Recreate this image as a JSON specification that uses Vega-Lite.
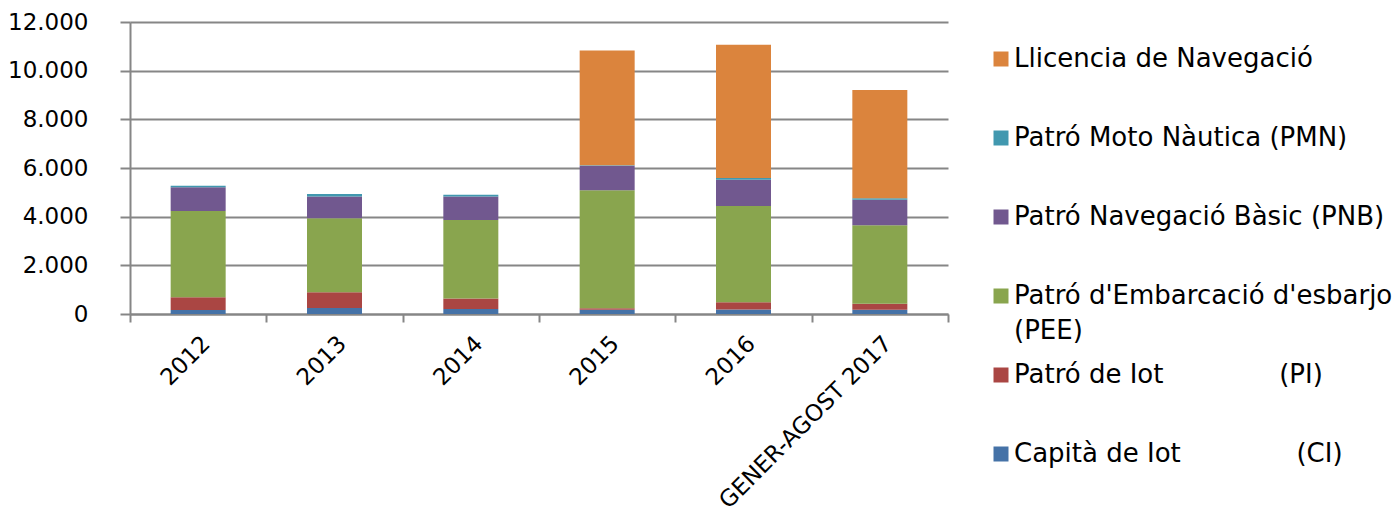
{
  "$schema": "https://vega.github.io/schema/vega-lite/v6.json",
  "width": 818,
  "height": 292,
  "autosize": {"type": "none"},
  "padding": {"left": 130, "top": 22, "right": 451, "bottom": 209},
  "background": "white",
  "config": {
    "view": {"stroke": null},
    "font": "DejaVu Sans",
    "style": {"guide-label": {"lineHeight": 35}}
  },
  "data": {
    "values": [
      {"periode": "2012", "tipus": "Capità de Iot (CI)", "valor": 165, "ordre": 1},
      {"periode": "2012", "tipus": "Patró de Iot (PI)", "valor": 520, "ordre": 2},
      {"periode": "2012", "tipus": "Patró d'Embarcació d'esbarjo (PEE)", "valor": 3550, "ordre": 3},
      {"periode": "2012", "tipus": "Patró Navegació Bàsic (PNB)", "valor": 970, "ordre": 4},
      {"periode": "2012", "tipus": "Patró Moto Nàutica (PMN)", "valor": 70, "ordre": 5},
      {"periode": "2012", "tipus": "Llicencia de Navegació", "valor": 0, "ordre": 6},
      {"periode": "2013", "tipus": "Capità de Iot (CI)", "valor": 250, "ordre": 1},
      {"periode": "2013", "tipus": "Patró de Iot (PI)", "valor": 640, "ordre": 2},
      {"periode": "2013", "tipus": "Patró d'Embarcació d'esbarjo (PEE)", "valor": 3040, "ordre": 3},
      {"periode": "2013", "tipus": "Patró Navegació Bàsic (PNB)", "valor": 900, "ordre": 4},
      {"periode": "2013", "tipus": "Patró Moto Nàutica (PMN)", "valor": 100, "ordre": 5},
      {"periode": "2013", "tipus": "Llicencia de Navegació", "valor": 0, "ordre": 6},
      {"periode": "2014", "tipus": "Capità de Iot (CI)", "valor": 205, "ordre": 1},
      {"periode": "2014", "tipus": "Patró de Iot (PI)", "valor": 435, "ordre": 2},
      {"periode": "2014", "tipus": "Patró d'Embarcació d'esbarjo (PEE)", "valor": 3220, "ordre": 3},
      {"periode": "2014", "tipus": "Patró Navegació Bàsic (PNB)", "valor": 970, "ordre": 4},
      {"periode": "2014", "tipus": "Patró Moto Nàutica (PMN)", "valor": 70, "ordre": 5},
      {"periode": "2014", "tipus": "Llicencia de Navegació", "valor": 0, "ordre": 6},
      {"periode": "2015", "tipus": "Capità de Iot (CI)", "valor": 170, "ordre": 1},
      {"periode": "2015", "tipus": "Patró de Iot (PI)", "valor": 70, "ordre": 2},
      {"periode": "2015", "tipus": "Patró d'Embarcació d'esbarjo (PEE)", "valor": 4850, "ordre": 3},
      {"periode": "2015", "tipus": "Patró Navegació Bàsic (PNB)", "valor": 1000, "ordre": 4},
      {"periode": "2015", "tipus": "Patró Moto Nàutica (PMN)", "valor": 20, "ordre": 5},
      {"periode": "2015", "tipus": "Llicencia de Navegació", "valor": 4720, "ordre": 6},
      {"periode": "2016", "tipus": "Capità de Iot (CI)", "valor": 185, "ordre": 1},
      {"periode": "2016", "tipus": "Patró de Iot (PI)", "valor": 300, "ordre": 2},
      {"periode": "2016", "tipus": "Patró d'Embarcació d'esbarjo (PEE)", "valor": 3950, "ordre": 3},
      {"periode": "2016", "tipus": "Patró Navegació Bàsic (PNB)", "valor": 1085, "ordre": 4},
      {"periode": "2016", "tipus": "Patró Moto Nàutica (PMN)", "valor": 70, "ordre": 5},
      {"periode": "2016", "tipus": "Llicencia de Navegació", "valor": 5480, "ordre": 6},
      {"periode": "GENER-AGOST 2017", "tipus": "Capità de Iot (CI)", "valor": 170, "ordre": 1},
      {"periode": "GENER-AGOST 2017", "tipus": "Patró de Iot (PI)", "valor": 250, "ordre": 2},
      {"periode": "GENER-AGOST 2017", "tipus": "Patró d'Embarcació d'esbarjo (PEE)", "valor": 3230, "ordre": 3},
      {"periode": "GENER-AGOST 2017", "tipus": "Patró Navegació Bàsic (PNB)", "valor": 1045, "ordre": 4},
      {"periode": "GENER-AGOST 2017", "tipus": "Patró Moto Nàutica (PMN)", "valor": 60, "ordre": 5},
      {"periode": "GENER-AGOST 2017", "tipus": "Llicencia de Navegació", "valor": 4450, "ordre": 6}
    ]
  },
  "mark": {"type": "bar", "width": 55},
  "encoding": {
    "x": {
      "field": "periode",
      "type": "nominal",
      "sort": null,
      "scale": {"paddingInner": 0, "paddingOuter": 0},
      "axis": {
        "title": null,
        "labelAngle": -45,
        "labelAlign": "right",
        "labelBaseline": "top",
        "labelFontSize": 23,
        "labelColor": "#000000",
        "labelPadding": 10,
        "domainColor": "#868686",
        "domainWidth": 2,
        "tickColor": "#868686",
        "tickWidth": 2,
        "tickSize": 8,
        "tickBand": "extent",
        "labelLimit": 400
      }
    },
    "y": {
      "field": "valor",
      "type": "quantitative",
      "stack": "zero",
      "scale": {"domain": [0, 12000], "nice": false},
      "axis": {
        "title": null,
        "values": [0, 2000, 4000, 6000, 8000, 10000, 12000],
        "labelExpr": "replace(format(datum.value, ','), ',', '.')",
        "labelFontSize": 23,
        "labelColor": "#000000",
        "labelPadding": 32,
        "domainColor": "#868686",
        "domainWidth": 2,
        "tickColor": "#868686",
        "tickWidth": 2,
        "tickSize": 10,
        "gridColor": "#868686",
        "gridWidth": 2
      }
    },
    "color": {
      "field": "tipus",
      "type": "nominal",
      "scale": {
        "domain": ["Llicencia de Navegació", "Patró Moto Nàutica (PMN)", "Patró Navegació Bàsic (PNB)", "Patró d'Embarcació d'esbarjo (PEE)", "Patró de Iot (PI)", "Capità de Iot (CI)"],
        "range": ["#DB843D", "#4198AF", "#71588F", "#89A54E", "#AA4643", "#4572A7"]
      },
      "legend": {
        "title": null,
        "orient": "none",
        "legendX": 858,
        "legendY": 24,
        "padding": 0,
        "symbolType": "square",
        "symbolSize": 225,
        "symbolStrokeWidth": 0,
        "labelFontSize": 26,
        "labelColor": "#000000",
        "labelOffset": 0,
        "labelLimit": 600,
        "rowPadding": 18,
        "labelExpr": "datum.label == \"Patró d'Embarcació d'esbarjo (PEE)\" ? [\"Patró d'Embarcació d'esbarjo\", \"(PEE)\"] : datum.label == 'Patró de Iot (PI)' ? ['Patró de Iot\u00a0\u00a0\u00a0\u00a0\u00a0\u00a0\u00a0\u00a0\u00a0\u00a0\u00a0\u00a0\u00a0\u00a0(PI)', ''] : datum.label == 'Capità de Iot (CI)' ? ['Capità de Iot\u00a0\u00a0\u00a0\u00a0\u00a0\u00a0\u00a0\u00a0\u00a0\u00a0\u00a0\u00a0\u00a0\u00a0(CI)', ''] : [datum.label, '']"
      }
    },
    "order": {"field": "ordre", "type": "quantitative"}
  }
}
